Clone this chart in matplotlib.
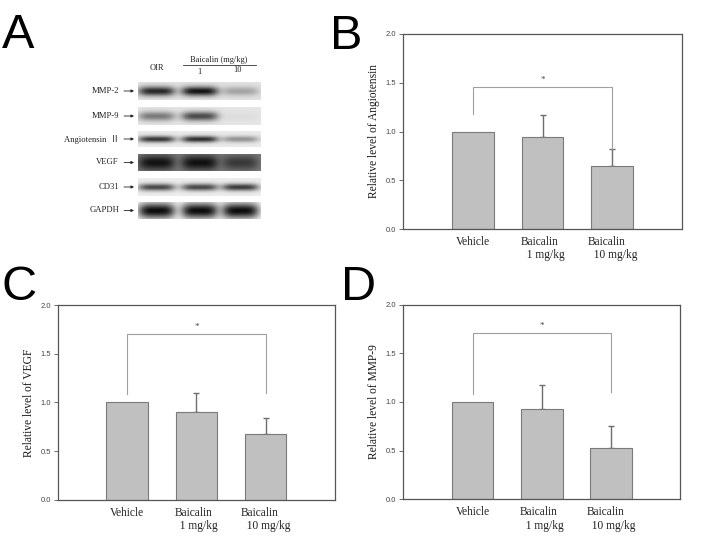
import numpy as np
import matplotlib
matplotlib.use("Agg")
import matplotlib.pyplot as plt

SERIF = "Liberation Serif"
SANS = "Liberation Sans"

# bar chart data
groups = ["Vehicle", "Baicalin\n  1 mg/kg", "Baicalin\n  10 mg/kg"]

angiotensin_mean = [1.0, 0.94, 0.65]
angiotensin_err = [0.0, 0.23, 0.17]
angiotensin_bracket = [1.18, 1.455, 0.82]   # left leg end, bar height, right leg end
angiotensin_star = 1.53

vegf_mean = [1.0, 0.905, 0.675]
vegf_err = [0.0, 0.19, 0.165]
vegf_bracket = [1.085, 1.70, 1.10]
vegf_star = 1.78

mmp9_mean = [1.0, 0.925, 0.525]
mmp9_err = [0.0, 0.245, 0.23]
mmp9_bracket = [1.08, 1.705, 1.105]
mmp9_star = 1.78

# western blot: relative band darkness per lane (OIR, 1, 10)
blot_rows = ["MMP-2", "MMP-9", "Angiotensin  Ⅱ", "VEGF", "CD31", "GAPDH"]
blot_darkness = [
    [0.88, 0.97, 0.30],
    [0.50, 0.72, 0.04],
    [0.82, 0.86, 0.40],
    [0.95, 0.97, 0.62],
    [0.74, 0.74, 0.80],
    [1.00, 1.00, 1.00],
]
blot_background = [0.89, 0.90, 0.92, 0.50, 0.93, 0.97]
blot_band_height = [0.26, 0.26, 0.20, 0.45, 0.20, 0.45]
blot_lanes = ["OIR", "1", "10"]


def bar_panel(fig, rect, means, errs, bracket, star, ylabel):
    ax = fig.add_axes(rect)
    x = np.arange(1, len(means) + 1)
    e = np.array(errs)
    keep = e > 0
    ax.errorbar(x[keep], np.array(means)[keep], yerr=[np.zeros(keep.sum()), e[keep]],
                fmt="none", ecolor="#6e6e6e", elinewidth=1.0, capsize=2.2,
                capthick=1.0, zorder=1)
    ax.bar(x, means, width=0.6, color="#c0c0c0", edgecolor="#7a7a7a",
           linewidth=0.8, zorder=2)
    ax.plot([x[0], x[0], x[-1], x[-1]],
            [bracket[0], bracket[1], bracket[1], bracket[2]],
            color="#a0a0a0", lw=0.8, zorder=3)
    ax.text((x[0] + x[-1]) / 2, star, "*", ha="center", va="center",
            fontsize=6.5, color="#444444", family=SERIF)
    ax.set_xlim(0, 4)
    ax.set_ylim(0, 2.0)
    ax.set_yticks([0.0, 0.5, 1.0, 1.5, 2.0])
    ax.set_yticklabels(["0.0", "0.5", "1.0", "1.5", "2.0"],
                       fontsize=5.5, family=SANS, color="#444444")
    ax.tick_params(axis="y", direction="out", length=3, width=0.6,
                   color="#555555", pad=2)
    ax.set_xticks(x)
    ax.set_xticklabels(groups, fontsize=8.3, family=SERIF, color="#222222",
                       va="top", multialignment="left", linespacing=1.15)
    ax.tick_params(axis="x", length=0, pad=5)
    for s in ax.spines.values():
        s.set_color("#555555")
        s.set_linewidth(0.9)
    ax.set_ylabel(ylabel, fontsize=8.3, family=SERIF, color="#1a1a1a", labelpad=4)
    return ax


def blot_panel(fig):
    ax = fig.add_axes([0, 1 - 275 / 551, 330 / 708, 275 / 551])
    ax.set_xlim(0, 330)
    ax.set_ylim(275, 0)
    ax.axis("off")

    x0, x1 = 138, 261
    lane_x = [0.15, 0.50, 0.83]
    tops = [82, 107, 131, 154, 178, 202]
    heights = [18, 18, 16, 17, 18, 17]

    for i, name in enumerate(blot_rows):
        h, w = 40, 200
        yy, xx = np.mgrid[0:h, 0:w]
        yy = yy / h
        xx = xx / w
        img = np.full((h, w), blot_background[i])
        for j, d in enumerate(blot_darkness[i]):
            prof_x = np.exp(-np.abs((xx - lane_x[j]) / 0.15) ** 4)
            prof_y = np.exp(-((yy - 0.5) / blot_band_height[i]) ** 2)
            img = img - (img - 0.05) * d * prof_x * prof_y
        ax.imshow(img, cmap="gray", vmin=0, vmax=1, aspect="auto",
                  extent=[x0, x1, tops[i] + heights[i], tops[i]],
                  interpolation="bilinear")
        yc = tops[i] + heights[i] / 2
        ax.text(119, yc, name, ha="right", va="center", fontsize=6.2,
                family=[SERIF, "Noto Sans CJK JP"], color="#222222")
        ax.annotate("", xy=(134, yc), xytext=(124, yc),
                    arrowprops=dict(arrowstyle="-|>", lw=0.6, color="#222222",
                                    mutation_scale=4, shrinkA=0, shrinkB=0))

    ax.text(157, 68, blot_lanes[0], ha="center", va="center", fontsize=6,
            family=SERIF, color="#222222")
    ax.text(219, 60, "Baicalin (mg/kg)", ha="center", va="center", fontsize=6,
            family=SERIF, color="#222222")
    ax.plot([183, 256], [64.5, 64.5], color="#333333", lw=0.6)
    ax.text(199, 71.5, blot_lanes[1], ha="center", va="center", fontsize=6,
            family=SERIF, color="#222222")
    ax.text(237, 70.5, blot_lanes[2], ha="center", va="center", fontsize=6,
            family=SERIF, color="#222222")
    return ax


fig = plt.figure(figsize=(7.08, 5.51), dpi=100)
fig.patch.set_facecolor("white")

blot_panel(fig)
bar_panel(fig, [403 / 708, 1 - 229 / 551, 279 / 708, 195 / 551],
          angiotensin_mean, angiotensin_err, angiotensin_bracket,
          angiotensin_star, "Relative level of Angiotensin")
bar_panel(fig, [57.7 / 708, 1 - 499.7 / 551, 277.3 / 708, 194.7 / 551],
          vegf_mean, vegf_err, vegf_bracket, vegf_star,
          "Relative level of VEGF")
bar_panel(fig, [403.3 / 708, 1 - 499.3 / 551, 277 / 708, 194.6 / 551],
          mmp9_mean, mmp9_err, mmp9_bracket, mmp9_star,
          "Relative level of MMP-9")

for letter, px, py in [("A", 2, 48), ("B", 330, 49), ("C", 1, 300), ("D", 341, 300)]:
    fig.text(px / 708, 1 - py / 551, letter, fontsize=35, family=SANS,
             ha="left", va="baseline", color="black")

fig.savefig("out.png", dpi=100)
